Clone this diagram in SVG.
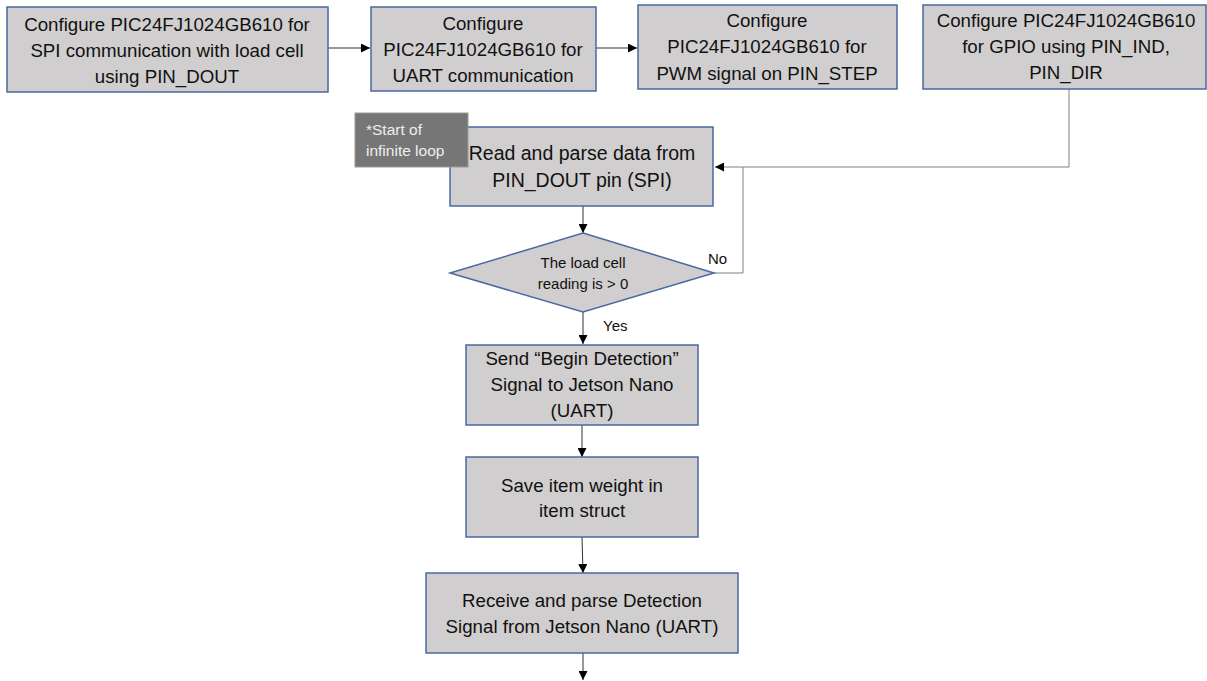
<svg xmlns="http://www.w3.org/2000/svg" width="1207" height="681" viewBox="0 0 1207 681">
<style>
.box{fill:#d0cece;stroke:#4a6aa0;stroke-width:1.5}
.t{font-family:"Liberation Sans",Arial,sans-serif;font-size:18.7px;fill:#111;text-anchor:middle}
.t2{font-family:"Liberation Sans",Arial,sans-serif;font-size:19.5px;fill:#111;text-anchor:middle}
.ts{font-family:"Liberation Sans",Arial,sans-serif;font-size:15px;fill:#111;text-anchor:middle}
.lbl{font-family:"Liberation Sans",Arial,sans-serif;font-size:15px;fill:#111}
.nt{font-family:"Liberation Sans",Arial,sans-serif;font-size:15.5px;fill:#eeeeee}
.c{fill:none;stroke:#333;stroke-width:1}
.cg{fill:none;stroke:#808080;stroke-width:1}
</style>
<defs>
<marker id="ah" viewBox="0 0 10 10" refX="10" refY="5" markerWidth="9" markerHeight="9" markerUnits="userSpaceOnUse" orient="auto">
<path d="M0,0 L10,5 L0,10 z" fill="#000"/>
</marker>
</defs>
<rect width="1207" height="681" fill="#fff"/>
<g id="connectors">
<line class="c" x1="328" y1="48" x2="370" y2="48" marker-end="url(#ah)"/>
<line class="c" x1="596" y1="48" x2="637" y2="48" marker-end="url(#ah)"/>
<polyline class="cg" points="1069,89 1069,167 715,167" marker-end="url(#ah)"/>
<line class="c" x1="583" y1="206" x2="583" y2="233" marker-end="url(#ah)"/>
<polyline class="cg" points="714,273 743,273 743,167"/>
<line class="c" x1="583" y1="312" x2="583" y2="344" marker-end="url(#ah)"/>
<line class="c" x1="582" y1="425" x2="582" y2="457" marker-end="url(#ah)"/>
<line class="c" x1="582" y1="537" x2="583" y2="573" marker-end="url(#ah)"/>
<line class="c" x1="583" y1="653" x2="583" y2="680" marker-end="url(#ah)"/>
<text class="lbl" x="708" y="264">No</text>
<text class="lbl" x="603" y="331">Yes</text>
</g>
<g id="n1">
<rect class="box" x="7" y="7" width="321" height="85"/>
<text class="t" x="167" y="31">Configure PIC24FJ1024GB610 for</text>
<text class="t" x="167" y="57">SPI communication with load cell</text>
<text class="t" x="167" y="83">using PIN_DOUT</text>
</g>
<g id="n2">
<rect class="box" x="371" y="7" width="225" height="84"/>
<text class="t" x="483" y="30">Configure</text>
<text class="t" x="483" y="56">PIC24FJ1024GB610 for</text>
<text class="t" x="483" y="82">UART communication</text>
</g>
<g id="n3">
<rect class="box" x="638" y="5" width="259" height="84"/>
<text class="t" x="767" y="27">Configure</text>
<text class="t" x="767" y="53">PIC24FJ1024GB610 for</text>
<text class="t" x="767" y="80">PWM signal on PIN_STEP</text>
</g>
<g id="n4">
<rect class="box" x="923" y="5" width="283" height="84"/>
<text class="t" x="1066" y="27">Configure PIC24FJ1024GB610</text>
<text class="t" x="1066" y="53">for GPIO using PIN_IND,</text>
<text class="t" x="1066" y="79">PIN_DIR</text>
</g>
<g id="n5">
<rect class="box" x="450" y="127" width="263" height="79"/>
<text class="t2" x="582" y="160">Read and parse data from</text>
<text class="t2" x="582" y="187">PIN_DOUT pin (SPI)</text>
</g>
<g id="note">
<rect x="355" y="113" width="113" height="54" fill="#767676" stroke="#9a9a9a" stroke-width="1"/>
<text class="nt" x="366" y="135">*Start of</text>
<text class="nt" x="366" y="156">infinite loop</text>
</g>
<g id="d1">
<polygon class="box" points="583,233 714,273 583,312 450,273"/>
<text class="ts" x="583" y="268">The load cell</text>
<text class="ts" x="583" y="289">reading is &gt; 0</text>
</g>
<g id="n6">
<rect class="box" x="466" y="345" width="232" height="80"/>
<text class="t" x="582" y="365">Send “Begin Detection”</text>
<text class="t" x="582" y="391">Signal to Jetson Nano</text>
<text class="t" x="582" y="417">(UART)</text>
</g>
<g id="n7">
<rect class="box" x="466" y="457" width="232" height="80"/>
<text class="t" x="582" y="492">Save item weight in</text>
<text class="t" x="582" y="517">item struct</text>
</g>
<g id="n8">
<rect class="box" x="426" y="573" width="312" height="80"/>
<text class="t" x="582" y="607">Receive and parse Detection</text>
<text class="t" x="582" y="633">Signal from Jetson Nano (UART)</text>
</g>
</svg>
